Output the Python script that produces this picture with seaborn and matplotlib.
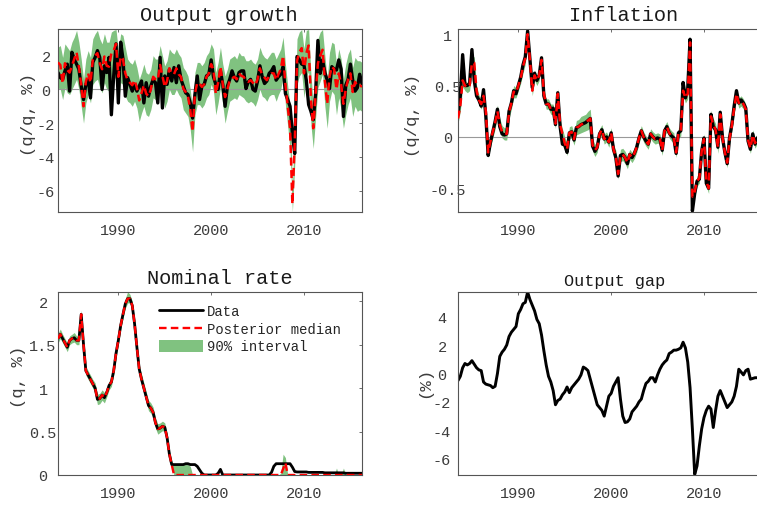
import numpy as np
import pandas as pd
import matplotlib
matplotlib.use("Agg")
import matplotlib.pyplot as plt
from matplotlib.lines import Line2D
from matplotlib.patches import Patch
from matplotlib.ticker import FuncFormatter
import seaborn as sns

# ---------------- data (quarterly, 1983Q3 .. 2016Q2) ----------------
quarters = pd.period_range("1983Q3", periods=132, freq="Q")
years = np.asarray(quarters.year + (quarters.quarter - 1) / 4.0, dtype=float)

growth_data = [
    1.0, 0.7, 0.6, 1.1, 1.5, -0.1, 2.2, 1.8, 1.5, 1.2,
    0.2, -0.6, 0.3, 0.6, -0.5, 1.6, 1.9, 2.3, 1.9, 0.0,
    1.4, 1.0, 1.9, -1.5, 0.8, 2.7, -0.8, 2.8, 1.8, -0.4,
    0.7, 0.3, -0.1, 0.3, -0.1, 0.2, 0.5, -0.8, 0.4, -0.4,
    0.2, 0.6, 0.4, -0.8, 1.9, -1.1, 0.8, 0.3, 1.2, 0.5,
    1.3, 0.4, 1.4, 0.6, 0.2, -0.2, -0.3, -0.8, -1.7, -0.3,
    0.8, -0.6, 0.2, 0.3, 0.8, 0.9, 1.75, 0.75, 0.3, 0.0,
    1.1, 0.3, -1.0, 0.2, 0.6, 1.1, 0.7, 0.5, 1.0, 1.1,
    1.1, 0.05, 0.45, 0.6, 0.0, -0.1, 0.5, 1.4, 0.75, 0.35,
    0.5, 0.95, 1.1, 1.35, 0.55, 0.75, 0.9, 1.35, -0.25, -0.6,
    -1.0, -2.6, -3.8, 1.95, 1.75, 1.5, 1.45, 0.55, -0.9, -1.3,
    -1.8, -0.25, 2.9, 0.95, 1.75, 1.0, 0.55, 0.05, 1.35, 1.2,
    1.15, 1.75, 1.2, -1.6, 0.25, 0.6, 1.5, 0.55, -0.1, 0.1,
    0.9, 0.35]
growth_median = [
    1.6, 1.45, 0.35, 1.55, 1.15, 1.0, 1.4, 1.8, 2.2, 1.35,
    0.25, -1.0, 0.45, 0.95, 0.4, 1.75, 2.0, 2.15, 1.55, 1.2,
    1.95, 1.4, 1.35, 2.15, 2.3, 2.7, 0.75, 1.95, 1.8, 0.95,
    0.55, 0.4, 0.25, 0.55, 0.1, -0.65, -0.2, 0.25, -0.25, -0.4,
    0.0, 0.75, 0.6, 0.55, 1.45, 0.8, 0.15, 0.5, 1.25, 0.95,
    0.9, 1.25, 0.9, 0.75, 0.05, -0.15, -0.4, -1.2, -2.5, -0.25,
    0.4, 0.35, 0.15, 0.3, 0.75, 0.95, 1.5, 1.15, -0.25, 0.4,
    1.35, 0.3, -0.45, 0.0, 0.55, 0.65, 0.75, 0.6, 0.95, 0.8,
    0.75, 0.5, 0.45, 0.55, 0.4, 0.25, 0.6, 1.25, 0.85, 0.7,
    0.55, 0.8, 0.95, 0.95, 0.55, 0.9, 1.2, 2.0, 0.3, -1.0,
    -2.3, -6.8, -3.2, 1.7, 2.2, 2.45, 0.95, 2.15, 2.6, -0.6,
    -2.3, -0.25, 1.55, 2.0, 2.35, 0.5, -0.85, 0.75, 1.35, 1.2,
    0.0, 0.95, 0.3, -0.85, 0.0, 0.6, 0.95, -0.15, 0.45, 0.2,
    0.25, 0.15]
growth_hi = [
    2.5, 2.6, 1.9, 2.7, 2.5, 2.3, 2.8, 3.1, 3.5, 2.8,
    1.8, 0.6, 1.8, 2.3, 1.9, 3.0, 3.3, 3.5, 3.0, 2.7,
    3.3, 2.8, 2.8, 3.4, 3.5, 3.55, 2.3, 3.3, 3.2, 2.5,
    1.8, 1.6, 1.5, 1.8, 1.3, 0.6, 1.0, 1.5, 1.0, 0.9,
    1.2, 2.0, 1.8, 1.8, 2.6, 2.0, 1.4, 1.7, 2.4, 2.2,
    2.1, 2.4, 2.1, 1.9, 1.3, 1.1, 0.8, 0.0, -1.2, 1.0,
    1.6, 1.6, 1.4, 1.6, 2.0, 2.2, 2.7, 2.4, 1.0, 1.6,
    2.5, 1.5, 0.8, 1.2, 1.8, 1.9, 2.0, 1.8, 2.2, 2.0,
    2.0, 1.7, 1.7, 1.8, 1.6, 1.5, 1.8, 2.5, 2.1, 1.9,
    1.8, 2.0, 2.2, 2.2, 1.8, 2.1, 2.4, 3.1, 1.5, 0.2,
    -1.0, -5.9, -2.0, 3.0, 3.4, 3.55, 2.4, 3.5, 3.55, 0.9,
    -0.9, 1.2, 3.0, 3.4, 3.55, 2.0, 0.6, 2.2, 2.8, 2.7,
    1.5, 2.4, 1.8, 0.6, 1.5, 2.1, 2.4, 1.3, 1.9, 1.7,
    1.7, 1.6]
growth_lo = [
    0.1, 0.0, -0.6, 0.1, -0.2, -0.3, 0.0, 0.3, 0.6, 0.0,
    -1.0, -2.0, -0.8, -0.3, -0.8, 0.3, 0.5, 0.6, 0.1, -0.2,
    0.4, 0.0, -0.1, 0.3, 0.5, 0.8, -0.8, 0.4, 0.3, -0.4,
    -0.7, -0.8, -1.0, -0.7, -1.1, -1.9, -1.4, -1.0, -1.5, -1.6,
    -1.2, -0.5, -0.6, -0.7, 0.2, -0.4, -1.1, -0.7, 0.0, -0.3,
    -0.3, 0.0, -0.3, -0.5, -1.2, -1.4, -1.6, -2.4, -3.7, -1.5,
    -0.9, -0.9, -1.1, -0.9, -0.5, -0.3, 0.3, -0.1, -1.5, -0.8,
    0.1, -0.9, -2.0, -1.3, -0.7, -0.6, -0.5, -0.6, -0.3, -0.4,
    -0.5, -0.7, -0.8, -0.7, -0.8, -1.0, -0.6, 0.0, -0.4, -0.5,
    -0.7, -0.4, -0.3, -0.3, -0.7, -0.3, 0.0, 0.8, -0.9, -2.2,
    -3.6, -7.25, -4.5, 0.3, 0.8, 1.0, -0.5, 0.7, 1.1, -2.1,
    -3.5, -1.7, 0.1, 0.5, 0.9, -1.0, -2.3, -0.7, -0.1, -0.3,
    -1.5, -0.5, -1.2, -2.3, -1.5, -0.9, -0.5, -1.6, -1.0, -1.3,
    -1.2, -1.3]

infl_data = [
    0.22, 0.4, 0.8, 0.5, 0.5, 0.52, 0.85, 0.55, 0.4, 0.36,
    0.3, 0.46, 0.2, -0.18, -0.05, 0.05, 0.15, 0.27, 0.1, 0.03,
    0.02, 0.03, 0.25, 0.33, 0.45, 0.42, 0.5, 0.58, 0.7, 0.78,
    1.03, 0.75, 0.48, 0.62, 0.55, 0.6, 0.77, 0.4, 0.32, 0.32,
    0.27, 0.28, 0.12, 0.43, 0.1, -0.07, -0.08, -0.15, 0.04, 0.05,
    -0.03, 0.09, 0.1, 0.12, 0.13, 0.14, 0.16, 0.18, -0.09, -0.14,
    -0.1, 0.03, 0.07, -0.02, 0.0, -0.05, 0.04, -0.12, -0.2, -0.38,
    -0.18, -0.17, -0.2, -0.26, -0.17, -0.2, -0.16, -0.1, -0.01, 0.06,
    0.0, -0.04, -0.07, 0.03, 0.0, -0.02, -0.01, -0.02, -0.13, 0.06,
    0.1, 0.04, 0.01, -0.01, -0.16, 0.04, 0.06, 0.53, 0.38, 0.47,
    0.95, -0.72, -0.55, -0.43, -0.41, -0.14, -0.01, -0.45, -0.5, 0.22,
    0.1, 0.07, -0.1, 0.24, -0.01, -0.15, -0.26, -0.01, 0.12, 0.3,
    0.45, 0.33, 0.36, 0.33, 0.28, -0.04, -0.12, 0.03, -0.07, -0.01,
    0.0, 0.02]
infl_median = [
    0.18, 0.3, 0.55, 0.5, 0.48, 0.5, 0.72, 0.72, 0.45, 0.36,
    0.32, 0.4, 0.25, -0.15, -0.04, 0.05, 0.14, 0.25, 0.12, 0.05,
    0.03, 0.03, 0.24, 0.33, 0.44, 0.43, 0.5, 0.57, 0.68, 0.77,
    1.0, 0.75, 0.45, 0.6, 0.55, 0.6, 0.75, 0.42, 0.32, 0.32,
    0.27, 0.27, 0.13, 0.42, 0.12, 0.03, -0.06, -0.12, 0.04, 0.05,
    -0.02, 0.09, 0.1, 0.12, 0.13, 0.14, 0.16, 0.18, -0.08, -0.13,
    -0.1, 0.03, 0.07, -0.02, 0.0, -0.05, 0.04, -0.12, -0.19, -0.36,
    -0.18, -0.17, -0.2, -0.25, -0.17, -0.2, -0.16, -0.1, -0.01, 0.06,
    0.0, -0.04, -0.07, 0.03, 0.0, -0.02, -0.01, -0.02, -0.13, 0.06,
    0.1, 0.04, 0.01, -0.01, -0.15, 0.04, 0.06, 0.45, 0.38, 0.42,
    0.92, -0.58, -0.53, -0.43, -0.4, -0.14, -0.02, -0.43, -0.5, 0.2,
    0.12, 0.07, -0.1, 0.22, -0.01, -0.15, -0.25, -0.02, 0.11, 0.28,
    0.42, 0.33, 0.35, 0.32, 0.27, -0.03, -0.11, 0.02, -0.06, -0.01,
    0.0, 0.02]
infl_halfwidth = [
    0.05, 0.05, 0.06, 0.05, 0.05, 0.05, 0.06, 0.06, 0.05, 0.05,
    0.05, 0.05, 0.05, 0.05, 0.06, 0.06, 0.06, 0.06, 0.06, 0.06,
    0.06, 0.06, 0.06, 0.06, 0.06, 0.05, 0.05, 0.05, 0.06, 0.06,
    0.05, 0.06, 0.05, 0.05, 0.05, 0.05, 0.05, 0.05, 0.05, 0.05,
    0.05, 0.05, 0.05, 0.05, 0.05, 0.05, 0.06, 0.06, 0.06, 0.06,
    0.06, 0.07, 0.07, 0.08, 0.08, 0.08, 0.09, 0.09, 0.06, 0.06,
    0.05, 0.05, 0.05, 0.05, 0.05, 0.05, 0.05, 0.05, 0.06, 0.05,
    0.06, 0.06, 0.06, 0.06, 0.05, 0.05, 0.05, 0.05, 0.05, 0.05,
    0.05, 0.05, 0.05, 0.05, 0.05, 0.05, 0.05, 0.05, 0.05, 0.05,
    0.05, 0.05, 0.05, 0.05, 0.05, 0.05, 0.05, 0.05, 0.05, 0.05,
    0.04, 0.04, 0.05, 0.05, 0.05, 0.05, 0.05, 0.05, 0.05, 0.06,
    0.06, 0.06, 0.06, 0.05, 0.05, 0.05, 0.05, 0.05, 0.05, 0.05,
    0.05, 0.05, 0.05, 0.05, 0.05, 0.05, 0.05, 0.05, 0.05, 0.05,
    0.05, 0.05]

rate_data = [
    1.57, 1.62, 1.57, 1.52, 1.47, 1.55, 1.57, 1.58, 1.55, 1.55,
    1.85, 1.5, 1.2, 1.15, 1.1, 1.05, 1.0, 0.87, 0.88, 0.92,
    0.89, 0.95, 1.03, 1.07, 1.2, 1.4, 1.55, 1.72, 1.85, 1.97,
    2.03, 2.03, 1.95, 1.74, 1.47, 1.22, 1.1, 1.0, 0.9, 0.8,
    0.77, 0.72, 0.6, 0.53, 0.54, 0.56, 0.55, 0.43, 0.24, 0.12,
    0.12, 0.12, 0.12, 0.12, 0.12, 0.13, 0.13, 0.12, 0.12, 0.12,
    0.1, 0.06, 0.02, 0.0, 0.0, 0.0, 0.0, 0.0, 0.0, 0.02,
    0.065, 0.0, 0.0, 0.0, 0.0, 0.0, 0.0, 0.0, 0.0, 0.0,
    0.0, 0.0, 0.0, 0.0, 0.0, 0.0, 0.0, 0.0, 0.0, 0.0,
    0.0, 0.0, 0.03, 0.1, 0.13, 0.13, 0.13, 0.13, 0.13, 0.13,
    0.13, 0.09, 0.04, 0.035, 0.035, 0.035, 0.035, 0.035, 0.03, 0.03,
    0.03, 0.03, 0.03, 0.03, 0.03, 0.025, 0.025, 0.025, 0.025, 0.025,
    0.025, 0.025, 0.025, 0.025, 0.02, 0.02, 0.02, 0.02, 0.02, 0.02,
    0.02, 0.02]
rate_median = [
    1.57, 1.62, 1.57, 1.52, 1.47, 1.55, 1.57, 1.58, 1.55, 1.55,
    1.85, 1.5, 1.2, 1.15, 1.1, 1.05, 1.0, 0.87, 0.88, 0.92,
    0.89, 0.95, 1.03, 1.07, 1.2, 1.4, 1.55, 1.72, 1.85, 1.97,
    2.03, 2.03, 1.95, 1.74, 1.47, 1.22, 1.1, 1.0, 0.9, 0.8,
    0.77, 0.72, 0.6, 0.53, 0.54, 0.56, 0.55, 0.43, 0.24, 0.12,
    0.0, 0.0, 0.0, 0.0, 0.0, 0.0, 0.0, 0.0, 0.0, 0.0,
    0.0, 0.0, 0.0, 0.0, 0.0, 0.0, 0.0, 0.0, 0.0, 0.0,
    0.0, 0.0, 0.0, 0.0, 0.0, 0.0, 0.0, 0.0, 0.0, 0.0,
    0.0, 0.0, 0.0, 0.0, 0.0, 0.0, 0.0, 0.0, 0.0, 0.0,
    0.0, 0.0, 0.0, 0.0, 0.0, 0.0, 0.0, 0.07, 0.14, 0.0,
    0.0, 0.0, 0.0, 0.0, 0.0, 0.0, 0.0, 0.0, 0.0, 0.0,
    0.0, 0.0, 0.0, 0.0, 0.0, 0.0, 0.0, 0.0, 0.0, 0.0,
    0.0, 0.0, 0.0, 0.0, 0.0, 0.0, 0.0, 0.0, 0.0, 0.0,
    0.0, 0.0]
rate_hi = [
    1.63, 1.68, 1.62, 1.57, 1.52, 1.6, 1.62, 1.64, 1.6, 1.6,
    1.9, 1.55, 1.25, 1.2, 1.15, 1.1, 1.06, 0.93, 0.94, 0.98,
    0.95, 1.0, 1.08, 1.12, 1.25, 1.45, 1.6, 1.77, 1.9, 2.03,
    2.11, 2.08, 2.0, 1.79, 1.52, 1.27, 1.16, 1.06, 0.96, 0.86,
    0.83, 0.78, 0.66, 0.59, 0.6, 0.62, 0.6, 0.48, 0.28, 0.16,
    0.12, 0.12, 0.12, 0.12, 0.12, 0.12, 0.12, 0.1, 0.0, 0.0,
    0.0, 0.0, 0.0, 0.0, 0.0, 0.0, 0.0, 0.0, 0.0, 0.0,
    0.0, 0.0, 0.0, 0.0, 0.0, 0.0, 0.0, 0.0, 0.0, 0.0,
    0.0, 0.0, 0.0, 0.0, 0.0, 0.0, 0.0, 0.0, 0.0, 0.0,
    0.0, 0.0, 0.0, 0.0, 0.0, 0.0, 0.02, 0.24, 0.2, 0.0,
    0.0, 0.0, 0.0, 0.0, 0.0, 0.0, 0.0, 0.0, 0.0, 0.0,
    0.0, 0.0, 0.0, 0.0, 0.0, 0.0, 0.0, 0.0, 0.0, 0.0,
    0.08, 0.0, 0.0, 0.08, 0.0, 0.0, 0.0, 0.0, 0.0, 0.0,
    0.0, 0.0]
rate_lo = [
    1.52, 1.57, 1.52, 1.47, 1.42, 1.5, 1.52, 1.53, 1.5, 1.5,
    1.77, 1.45, 1.15, 1.1, 1.05, 1.0, 0.94, 0.81, 0.82, 0.86,
    0.83, 0.9, 0.98, 1.02, 1.15, 1.35, 1.5, 1.67, 1.8, 1.92,
    1.98, 1.98, 1.9, 1.69, 1.42, 1.17, 1.04, 0.94, 0.84, 0.74,
    0.71, 0.66, 0.54, 0.47, 0.49, 0.51, 0.5, 0.38, 0.2, 0.08,
    0.0, 0.0, 0.0, 0.0, 0.0, 0.0, 0.0, 0.0, 0.0, 0.0,
    0.0, 0.0, 0.0, 0.0, 0.0, 0.0, 0.0, 0.0, 0.0, 0.0,
    0.0, 0.0, 0.0, 0.0, 0.0, 0.0, 0.0, 0.0, 0.0, 0.0,
    0.0, 0.0, 0.0, 0.0, 0.0, 0.0, 0.0, 0.0, 0.0, 0.0,
    0.0, 0.0, 0.0, 0.0, 0.0, 0.0, 0.0, 0.0, 0.0, 0.0,
    0.0, 0.0, 0.0, 0.0, 0.0, 0.0, 0.0, 0.0, 0.0, 0.0,
    0.0, 0.0, 0.0, 0.0, 0.0, 0.0, 0.0, 0.0, 0.0, 0.0,
    0.0, 0.0, 0.0, 0.0, 0.0, 0.0, 0.0, 0.0, 0.0, 0.0,
    0.0, 0.0]

gap_data = [
    -0.5, -0.2, 0.4, 0.7, 0.6, 0.7, 0.9, 0.65, 0.4, 0.25,
    0.2, -0.6, -0.75, -0.8, -0.85, -1.0, -0.9, 0.0, 1.2, 1.5,
    1.7, 2.0, 2.6, 2.9, 3.1, 3.3, 4.2, 4.5, 4.9, 5.0,
    5.73, 5.2, 4.8, 4.4, 3.8, 3.5, 2.7, 1.6, 0.6, -0.2,
    -0.6, -1.2, -2.2, -1.9, -1.8, -1.5, -1.3, -0.95, -1.35, -1.0,
    -0.8, -0.6, -0.4, -0.1, 0.45, 0.35, 0.2, -0.4, -1.0, -1.6,
    -2.2, -2.4, -2.6, -3.0, -2.3, -1.6, -1.4, -0.9, -0.6, -0.3,
    -1.8, -3.0, -3.45, -3.4, -3.2, -2.7, -2.5, -2.3, -2.0, -1.8,
    -1.2, -0.7, -0.55, -0.3, -0.3, -0.6, -0.1, 0.3, 0.6, 0.8,
    0.95, 1.4, 1.5, 1.64, 1.64, 1.7, 1.8, 2.2, 1.8, 0.8,
    -1.0, -3.9, -7.1, -6.5, -5.1, -3.9, -3.1, -2.6, -2.3, -2.5,
    -3.8, -2.6, -1.6, -1.2, -1.6, -2.0, -2.4, -2.2, -2.0, -1.6,
    -0.9, 0.3, 0.1, -0.1, 0.2, 0.3, -0.4, -0.35, -0.3, -0.3,
    -0.3, -0.3]

for _arr in (growth_data, growth_median, growth_hi, growth_lo, infl_data, infl_median,
             infl_halfwidth, rate_data, rate_median, rate_hi, rate_lo, gap_data):
    assert len(_arr) == len(years), len(_arr)

titles = ["Output growth", "Inflation", "Nominal rate", "Output gap"]
ylabels = ["(q/q, %)", "(q/q, %)", "(q, %)", "(%)"]
legend_labels = ["Data", "Posterior median", "90% interval"]
xtick_years = [1990, 2000, 2010]

# ---------------- styling ----------------
sns.set_theme(style="white")
plt.rcParams['font.family'] = ['Liberation Mono', 'DejaVu Sans Mono']
plt.rcParams['axes.unicode_minus'] = False

W, H = 757, 506
fig = plt.figure(figsize=(W / 100, H / 100), dpi=100)

GREEN = (0.5, 0.76, 0.5)
RED = (1.0, 0.0, 0.0)
TXT = '#3c3c3c'
SPINE = '#555555'
DASH = (0, (3.2, 1.8))


def px_axes(l, t, r, b):
    return fig.add_axes([l / W, 1 - b / H, (r - l) / W, (b - t) / H])


def style(ax, ylim, yticks, ypad):
    ax.set_xlim(1983.5, 2016.25)
    ax.set_ylim(*ylim)
    ax.set_xticks(xtick_years)
    ax.set_yticks(yticks)
    ax.xaxis.set_major_formatter(FuncFormatter(lambda v, p: f"{v:.0f}"))
    ax.yaxis.set_major_formatter(FuncFormatter(lambda v, p: f"{v:g}"))
    ax.tick_params(direction='in', length=2.5, width=0.6, top=True, right=True,
                   colors=SPINE, labelcolor=TXT, labelsize=11)
    ax.tick_params(axis='x', pad=8.0)
    ax.tick_params(axis='y', pad=ypad)
    for lab in ax.get_yticklabels():
        lab.set_horizontalalignment('center')
    for s in ax.spines.values():
        s.set_visible(True)
        s.set_color(SPINE)
        s.set_linewidth(0.8)
    ax.set_xlabel('')
    ax.set_ylabel('')
    ax.grid(False)


def draw(ax, data, median=None, lo=None, hi=None, zero=False, lw=1.9, rlw=1.6):
    if lo is not None:
        ax.fill_between(years, lo, hi, color=GREEN, linewidth=0, zorder=1)
    if zero:
        ax.axhline(0, color='0.6', linewidth=0.8, zorder=1.5)
    sns.lineplot(x=years, y=np.asarray(data), ax=ax, color='black',
                 linewidth=lw, errorbar=None, zorder=2)
    if median is not None:
        sns.lineplot(x=years, y=np.asarray(median), ax=ax, color=RED,
                     linewidth=rlw, linestyle=DASH, errorbar=None, zorder=3)


ax1 = px_axes(58, 30, 362, 213)
ax2 = px_axes(458, 30, 762, 213)
ax3 = px_axes(58, 292.7, 362, 476)
ax4 = px_axes(458, 292.7, 762, 476)

draw(ax1, growth_data, growth_median, growth_lo, growth_hi, zero=True, lw=2.4, rlw=1.8)
style(ax1, (-7.26, 3.58), [-6, -4, -2, 0, 2], 8.6)

infl_med = np.asarray(infl_median)
infl_w = np.asarray(infl_halfwidth)
draw(ax2, infl_data, infl_median, infl_med - infl_w, infl_med + infl_w, zero=True,
     lw=2.4, rlw=1.8)
style(ax2, (-0.73, 1.05), [-0.5, 0, 0.5, 1], 7.2)

draw(ax3, rate_data, rate_median, rate_lo, rate_hi, lw=2.0, rlw=1.7)
style(ax3, (0, 2.11), [0, 0.5, 1, 1.5, 2], 10.8)

draw(ax4, gap_data, lw=2.1)
style(ax4, (-7.14, 5.75), [-6, -4, -2, 0, 2, 4], 11.5)

# titles
for (x, y, txt, fs) in [(219, 20.7, titles[0], 14.6), (623.5, 20.7, titles[1], 14.6),
                        (219.5, 284.3, titles[2], 14.6), (615, 285.7, titles[3], 12.2)]:
    fig.text(x / W, 1 - y / H, txt, ha='center', va='baseline', fontsize=fs, color='#1a1a1a')

# y labels
for (x, y, txt) in [(28, 115, ylabels[0]), (413, 115.7, ylabels[1]),
                    (18, 376.7, ylabels[2]), (424.7, 382.5, ylabels[3])]:
    fig.text(x / W, 1 - y / H, txt, rotation=90, ha='center', va='center',
             fontsize=12.5, color=TXT)

# legend
handles = [Line2D([], [], color='black', linewidth=2.0),
           Line2D([], [], color=RED, linewidth=1.7, linestyle=DASH),
           Patch(facecolor=GREEN, edgecolor='none')]
ax3.legend(handles=handles, labels=legend_labels, loc='upper left',
           bbox_to_anchor=(158.7 / W, 1 - 305.5 / H), bbox_transform=fig.transFigure,
           frameon=False, handlelength=3.2, handletextpad=0.25, labelspacing=0.25,
           borderpad=0, borderaxespad=0, fontsize=10, handleheight=0.95,
           labelcolor='#262626')

fig.savefig('out.png', dpi=100)
